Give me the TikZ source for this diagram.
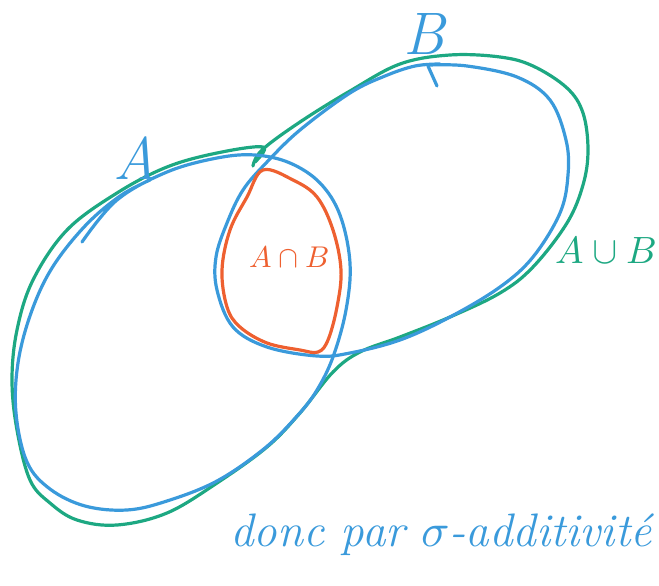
\documentclass[tikz,border=0pt]{standalone}
\usepackage{amsmath}
\usepackage{unicode-math}
\usepackage{xcolor}
\usepackage{tikz}

\definecolor{penblue}{HTML}{3A9ADB}
\definecolor{pengreen}{HTML}{1DA882}
\definecolor{penorange}{HTML}{EE6030}

\begin{document}
\begin{tikzpicture}[x=1pt, y=-1pt,
    pen/.style={line width=3.2pt, line cap=round, line join=round},
    setline/.style={pen, draw=penblue},
    unionline/.style={pen, draw=pengreen},
    capline/.style={pen, draw=penorange},
    hand/.style={font=\fontsize{#1}{#1}\selectfont\itshape, inner sep=0pt}]
    \useasboundingbox (0,0) rectangle (659,586);

    % union A u B
    \draw[unionline] plot[smooth, tension=0.6] coordinates {(253,166) (262,150) (300,122) (350,91) (400,64)
        (450,55) (500,57) (533,66) (567,88) (583,113) (588,150) (583,185) (567,223) (533,267)
        (500,293) (450,317) (400,337) (360,352) (333,372) (300,413) (267,447) (217,483)
        (167,513) (117,525) (77,520) (50,503) (30,480) (17,430) (12,380) (17,330) (33,280)
        (67,230) (117,193) (167,167) (217,153) (263,147) (255,162)};

    % set A
    \draw[setline] plot[smooth, tension=0.6] coordinates {(82,242) (117,200) (167,172) (217,158) (255,155)
        (290,163) (320,183) (340,215) (350,263) (346,310) (333,357) (317,390) (298,415)
        (265,448) (217,481) (167,501) (127,510) (85,506) (50,489) (27,462) (16,413) (18,363)
        (31,313) (52,268) (85,226) (120,196) (150,180)};

    % set B
    \draw[setline] plot[smooth, tension=0.6] coordinates {(430,65) (467,66) (517,77) (550,100) (566,140)
        (568,175) (560,213) (533,257) (500,287) (450,317) (400,340) (350,353) (317,356)
        (267,347) (233,327) (217,290) (216,257) (227,223) (243,190) (267,162) (300,130)
        (350,93) (385,76) (415,66) (440,64)};
    \coordinate (btick1) at (428,66);
    \coordinate (btick2) at (437,86);
    \draw[setline] (btick1) -- (btick2);

    % intersection A n B
    \draw[capline] plot[smooth cycle, tension=0.6] coordinates {(263,170) (293,180) (317,197) (333,230)
        (341,270) (337,307) (328,340) (318,352) (300,350) (267,343) (240,327) (227,307)
        (222,270) (230,230) (247,197)};

    % labels
    \node[hand=60, text=penblue]   (labA)     at (135,158) {A};
    \node[hand=60, text=penblue]   (labB)     at (424,34)  {B};
    \node[hand=30, text=penorange] (labCap)   at (289,257) {$A\cap B$};
    \node[hand=38, text=pengreen]  (labCup)   at (606,250) {$A\cup B$};
    \node[hand=47, text=penblue]   (labSigma) at (441,535) {donc par $\sigma$-additivit\'e};
\end{tikzpicture}
\end{document}
